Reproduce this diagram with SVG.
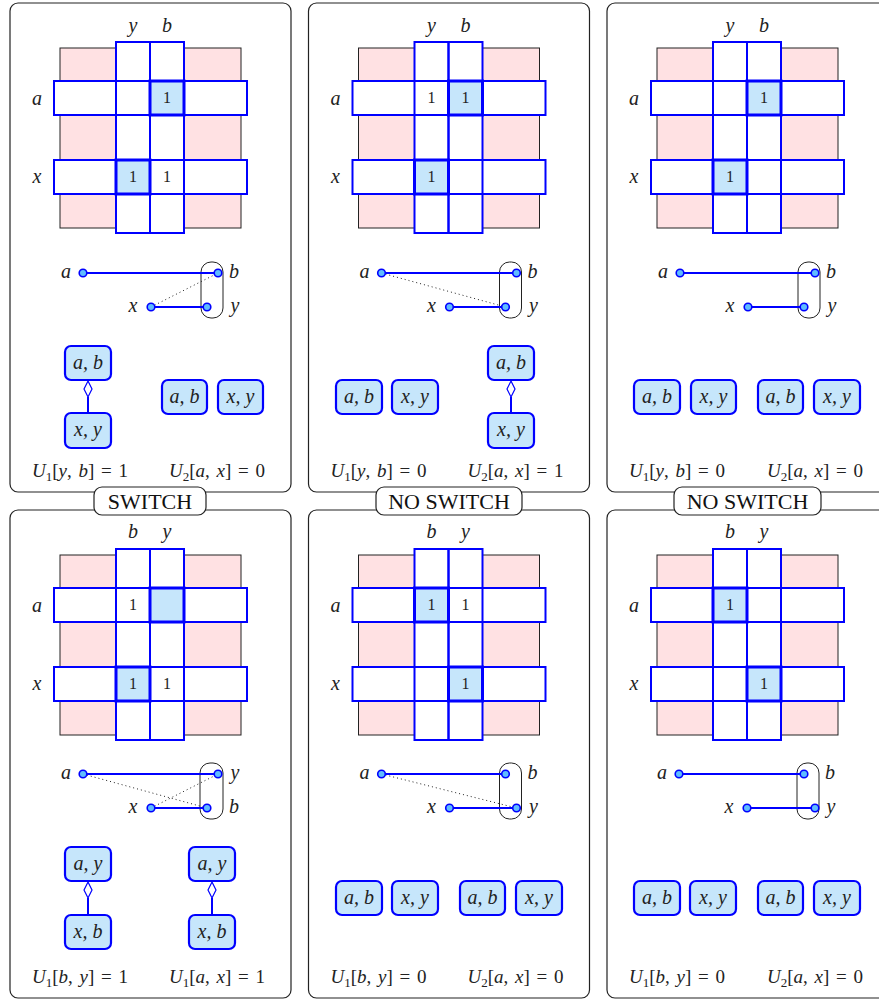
<svg xmlns="http://www.w3.org/2000/svg" xmlns:xlink="http://www.w3.org/1999/xlink" width="879" height="1000" viewBox="0 0 879 1000">
<style>
.panel{fill:#fff;stroke:#222;stroke-width:1.2}
.pink{fill:#ffe1e3;stroke:#222;stroke-width:1}
.sf{fill:#fff;stroke:none}
.so{fill:none;stroke:#0000ff;stroke-width:2}
.hl{fill:#c6e6fb;stroke:#0000ff;stroke-width:3}
.m{font-family:"Liberation Serif",serif;font-style:italic;font-size:20px;fill:#222;text-anchor:middle}
.one{font-family:"Liberation Serif",serif;font-size:16px;fill:#222;text-anchor:middle}
.u{font-family:"Liberation Serif",serif;font-size:19px;fill:#222;text-anchor:middle;word-spacing:2px}
.u .i{font-style:italic}
.edge{stroke:#0000ff;stroke-width:2;fill:none}
.dot{stroke:#222;stroke-width:1;stroke-dasharray:1 3;fill:none}
.node{fill:#5fbcff;stroke:#0000ff;stroke-width:1.6}
.grp{fill:none;stroke:#222;stroke-width:1}
.box{fill:#c6e6fb;stroke:#0000ff;stroke-width:2.2}
.diam{fill:#fff;stroke:#0000ff;stroke-width:1.2}
.lab{fill:#fff;stroke:#222;stroke-width:1.2}
.big{font-family:"Liberation Serif",serif;font-size:22px;fill:#111;text-anchor:middle}
</style>
<defs>
<g id="mat">
<rect class="pink" x="60" y="48" width="181" height="180"/>
<rect class="sf" x="116" y="42" width="68" height="191"/>
<rect class="sf" x="54" y="81" width="193" height="34"/>
<rect class="sf" x="54" y="160" width="193" height="34"/>
<rect class="so" x="116" y="42" width="34" height="191"/>
<rect class="so" x="150" y="42" width="34" height="191"/>
<rect class="so" x="54" y="81" width="193" height="34"/>
<rect class="so" x="54" y="160" width="193" height="34"/>
</g>
<g id="grpbox"><rect class="grp" x="201" y="262" width="22" height="56" rx="10"/></g>
</defs>

<!-- TOP PANEL 1 -->
<g id="panel-top-1">
<rect class="panel" x="10" y="3" width="281" height="489" rx="8"/>
<use xlink:href="#mat"/>
<rect class="hl" x="150" y="81" width="34" height="34"/>
<rect class="hl" x="116" y="160" width="34" height="34"/>
<text class="one" x="167" y="103">1</text>
<text class="one" x="133" y="182">1</text>
<text class="one" x="167" y="182">1</text>
<text class="m" x="133" y="32">y</text><text class="m" x="167" y="32">b</text>
<text class="m" x="37" y="105">a</text><text class="m" x="37" y="183">x</text>
<g id="graph-top-1">
<use xlink:href="#grpbox"/>
<line class="edge" x1="83" y1="273" x2="218" y2="273"/>
<line class="edge" x1="151" y1="307" x2="207" y2="307"/>
<line class="dot" x1="151" y1="307" x2="218" y2="273"/>
<circle class="node" cx="83" cy="273" r="3.8"/><circle class="node" cx="218" cy="273" r="3.8"/>
<circle class="node" cx="151" cy="307" r="3.8"/><circle class="node" cx="207" cy="307" r="3.8"/>
<text class="m" x="66" y="278">a</text><text class="m" x="234" y="278">b</text>
<text class="m" x="133" y="312">x</text><text class="m" x="235" y="312">y</text>
</g>
<g id="tree-top-1">
<rect class="box" x="65" y="346" width="46" height="34" rx="6"/><text class="m" x="88" y="369">a, b</text>
<rect class="box" x="65" y="413" width="46" height="35" rx="6"/><text class="m" x="88" y="436">x, y</text>
<line class="edge" x1="88" y1="397" x2="88" y2="413"/>
<polygon class="diam" points="88,381 92,389 88,397 84,389"/>
</g>
<rect class="box" x="162" y="380" width="45" height="34" rx="6"/><text class="m" x="184.5" y="403">a, b</text>
<rect class="box" x="218" y="380" width="45" height="34" rx="6"/><text class="m" x="240.5" y="403">x, y</text>
<text class="u" x="80" y="477"><tspan class="i">U</tspan><tspan font-size="13" dy="4">1</tspan><tspan dy="-4">[</tspan><tspan class="i">y</tspan>, <tspan class="i">b</tspan>] = 1</text>
<text class="u" x="217" y="477"><tspan class="i">U</tspan><tspan font-size="13" dy="4">2</tspan><tspan dy="-4">[</tspan><tspan class="i">a</tspan>, <tspan class="i">x</tspan>] = 0</text>
</g>

<!-- TOP PANEL 2 -->
<g id="panel-top-2" transform="translate(298.5,0)">
<rect class="panel" x="10" y="3" width="281" height="489" rx="8"/>
<use xlink:href="#mat"/>
<rect class="hl" x="150" y="81" width="34" height="34"/>
<rect class="hl" x="116" y="160" width="34" height="34"/>
<text class="one" x="133" y="103">1</text>
<text class="one" x="167" y="103">1</text>
<text class="one" x="133" y="182">1</text>
<text class="m" x="133" y="32">y</text><text class="m" x="167" y="32">b</text>
<text class="m" x="37" y="105">a</text><text class="m" x="37" y="183">x</text>
<g id="graph-top-2">
<use xlink:href="#grpbox"/>
<line class="edge" x1="83" y1="273" x2="218" y2="273"/>
<line class="edge" x1="151" y1="307" x2="207" y2="307"/>
<line class="dot" x1="83" y1="273" x2="207" y2="307"/>
<circle class="node" cx="83" cy="273" r="3.8"/><circle class="node" cx="218" cy="273" r="3.8"/>
<circle class="node" cx="151" cy="307" r="3.8"/><circle class="node" cx="207" cy="307" r="3.8"/>
<text class="m" x="66" y="278">a</text><text class="m" x="234" y="278">b</text>
<text class="m" x="133" y="312">x</text><text class="m" x="235" y="312">y</text>
</g>
<rect class="box" x="37.5" y="380" width="46" height="34" rx="6"/><text class="m" x="60.5" y="403">a, b</text>
<rect class="box" x="93.5" y="380" width="46" height="34" rx="6"/><text class="m" x="116.5" y="403">x, y</text>
<g id="tree-top-2">
<rect class="box" x="189.5" y="346" width="46" height="34" rx="6"/><text class="m" x="212.5" y="369">a, b</text>
<rect class="box" x="189.5" y="413" width="46" height="35" rx="6"/><text class="m" x="212.5" y="436">x, y</text>
<line class="edge" x1="212.5" y1="397" x2="212.5" y2="413"/>
<polygon class="diam" points="212.5,381 216.5,389 212.5,397 208.5,389"/>
</g>
<text class="u" x="80" y="477"><tspan class="i">U</tspan><tspan font-size="13" dy="4">1</tspan><tspan dy="-4">[</tspan><tspan class="i">y</tspan>, <tspan class="i">b</tspan>] = 0</text>
<text class="u" x="217" y="477"><tspan class="i">U</tspan><tspan font-size="13" dy="4">2</tspan><tspan dy="-4">[</tspan><tspan class="i">a</tspan>, <tspan class="i">x</tspan>] = 1</text>
</g>

<!-- TOP PANEL 3 -->
<g id="panel-top-3" transform="translate(597,0)">
<rect class="panel" x="10" y="3" width="281" height="489" rx="8"/>
<use xlink:href="#mat"/>
<rect class="hl" x="150" y="81" width="34" height="34"/>
<rect class="hl" x="116" y="160" width="34" height="34"/>
<text class="one" x="167" y="103">1</text>
<text class="one" x="133" y="182">1</text>
<text class="m" x="133" y="32">y</text><text class="m" x="167" y="32">b</text>
<text class="m" x="37" y="105">a</text><text class="m" x="37" y="183">x</text>
<g id="graph-top-3">
<use xlink:href="#grpbox"/>
<line class="edge" x1="83" y1="273" x2="218" y2="273"/>
<line class="edge" x1="151" y1="307" x2="207" y2="307"/>
<circle class="node" cx="83" cy="273" r="3.8"/><circle class="node" cx="218" cy="273" r="3.8"/>
<circle class="node" cx="151" cy="307" r="3.8"/><circle class="node" cx="207" cy="307" r="3.8"/>
<text class="m" x="66" y="278">a</text><text class="m" x="234" y="278">b</text>
<text class="m" x="133" y="312">x</text><text class="m" x="235" y="312">y</text>
</g>
<rect class="box" x="37" y="380" width="46" height="34" rx="6"/><text class="m" x="60" y="403">a, b</text>
<rect class="box" x="94" y="380" width="45" height="34" rx="6"/><text class="m" x="116.5" y="403">x, y</text>
<rect class="box" x="161" y="380" width="45" height="34" rx="6"/><text class="m" x="183.5" y="403">a, b</text>
<rect class="box" x="217" y="380" width="46" height="34" rx="6"/><text class="m" x="240" y="403">x, y</text>
<text class="u" x="80" y="477"><tspan class="i">U</tspan><tspan font-size="13" dy="4">1</tspan><tspan dy="-4">[</tspan><tspan class="i">y</tspan>, <tspan class="i">b</tspan>] = 0</text>
<text class="u" x="218" y="477"><tspan class="i">U</tspan><tspan font-size="13" dy="4">2</tspan><tspan dy="-4">[</tspan><tspan class="i">a</tspan>, <tspan class="i">x</tspan>] = 0</text>
</g>

<!-- BOTTOM PANEL 1 -->
<g id="panel-bot-1">
<rect class="panel" x="10" y="510" width="281" height="488" rx="8"/>
<use xlink:href="#mat" y="507"/>
<rect class="hl" x="150" y="588" width="34" height="34"/>
<rect class="hl" x="116" y="667" width="34" height="34"/>
<text class="one" x="133" y="610">1</text>
<text class="one" x="133" y="689">1</text>
<text class="one" x="167" y="689">1</text>
<text class="m" x="133" y="538">b</text><text class="m" x="167" y="538">y</text>
<text class="m" x="37" y="612">a</text><text class="m" x="37" y="690">x</text>
<g id="graph-bot-1">
<rect class="grp" x="200" y="763" width="23" height="56" rx="10"/>
<line class="edge" x1="83" y1="774" x2="218" y2="774"/>
<line class="edge" x1="151" y1="808" x2="207" y2="808"/>
<line class="dot" x1="83" y1="774" x2="207" y2="808"/>
<line class="dot" x1="151" y1="808" x2="218" y2="774"/>
<circle class="node" cx="83" cy="774" r="3.8"/><circle class="node" cx="218" cy="774" r="3.8"/>
<circle class="node" cx="151" cy="808" r="3.8"/><circle class="node" cx="207" cy="808" r="3.8"/>
<text class="m" x="66" y="779">a</text><text class="m" x="235" y="779">y</text>
<text class="m" x="133" y="813">x</text><text class="m" x="234" y="813">b</text>
</g>
<g id="tree-bot-1a">
<rect class="box" x="65" y="847" width="46" height="34" rx="6"/><text class="m" x="88" y="870">a, y</text>
<rect class="box" x="65" y="915" width="46" height="34" rx="6"/><text class="m" x="88" y="938">x, b</text>
<line class="edge" x1="88" y1="898" x2="88" y2="915"/>
<polygon class="diam" points="88,882 92,890 88,898 84,890"/>
</g>
<g id="tree-bot-1b">
<rect class="box" x="189" y="847" width="46" height="34" rx="6"/><text class="m" x="212" y="870">a, y</text>
<rect class="box" x="189" y="915" width="46" height="34" rx="6"/><text class="m" x="212" y="938">x, b</text>
<line class="edge" x1="212" y1="898" x2="212" y2="915"/>
<polygon class="diam" points="212,882 216,890 212,898 208,890"/>
</g>
<text class="u" x="80" y="983"><tspan class="i">U</tspan><tspan font-size="13" dy="4">1</tspan><tspan dy="-4">[</tspan><tspan class="i">b</tspan>, <tspan class="i">y</tspan>] = 1</text>
<text class="u" x="217" y="983"><tspan class="i">U</tspan><tspan font-size="13" dy="4">1</tspan><tspan dy="-4">[</tspan><tspan class="i">a</tspan>, <tspan class="i">x</tspan>] = 1</text>
</g>

<!-- BOTTOM PANEL 2 -->
<g id="panel-bot-2" transform="translate(298.5,0)">
<rect class="panel" x="10" y="510" width="281" height="488" rx="8"/>
<use xlink:href="#mat" y="507"/>
<rect class="hl" x="116" y="588" width="34" height="34"/>
<rect class="hl" x="150" y="667" width="34" height="34"/>
<text class="one" x="133" y="610">1</text>
<text class="one" x="167" y="610">1</text>
<text class="one" x="167" y="689">1</text>
<text class="m" x="133" y="538">b</text><text class="m" x="167" y="538">y</text>
<text class="m" x="37" y="612">a</text><text class="m" x="37" y="690">x</text>
<g id="graph-bot-2">
<rect class="grp" x="201" y="763" width="22" height="56" rx="10"/>
<line class="edge" x1="83" y1="774" x2="207" y2="774"/>
<line class="edge" x1="151" y1="808" x2="218" y2="808"/>
<line class="dot" x1="83" y1="774" x2="218" y2="808"/>
<circle class="node" cx="83" cy="774" r="3.8"/><circle class="node" cx="207" cy="774" r="3.8"/>
<circle class="node" cx="151" cy="808" r="3.8"/><circle class="node" cx="218" cy="808" r="3.8"/>
<text class="m" x="66" y="779">a</text><text class="m" x="234" y="779">b</text>
<text class="m" x="133" y="813">x</text><text class="m" x="235" y="813">y</text>
</g>
<rect class="box" x="37.5" y="881" width="46" height="34" rx="6"/><text class="m" x="60.5" y="904">a, b</text>
<rect class="box" x="93.5" y="881" width="46" height="34" rx="6"/><text class="m" x="116.5" y="904">x, y</text>
<rect class="box" x="161.5" y="881" width="45" height="34" rx="6"/><text class="m" x="184" y="904">a, b</text>
<rect class="box" x="217.5" y="881" width="46" height="34" rx="6"/><text class="m" x="240.5" y="904">x, y</text>
<text class="u" x="80" y="983"><tspan class="i">U</tspan><tspan font-size="13" dy="4">1</tspan><tspan dy="-4">[</tspan><tspan class="i">b</tspan>, <tspan class="i">y</tspan>] = 0</text>
<text class="u" x="217" y="983"><tspan class="i">U</tspan><tspan font-size="13" dy="4">2</tspan><tspan dy="-4">[</tspan><tspan class="i">a</tspan>, <tspan class="i">x</tspan>] = 0</text>
</g>

<!-- BOTTOM PANEL 3 -->
<g id="panel-bot-3" transform="translate(597,0)">
<rect class="panel" x="10" y="510" width="281" height="488" rx="8"/>
<use xlink:href="#mat" y="507"/>
<rect class="hl" x="116" y="588" width="34" height="34"/>
<rect class="hl" x="150" y="667" width="34" height="34"/>
<text class="one" x="133" y="610">1</text>
<text class="one" x="167" y="689">1</text>
<text class="m" x="133" y="538">b</text><text class="m" x="167" y="538">y</text>
<text class="m" x="37" y="612">a</text><text class="m" x="37" y="690">x</text>
<g id="graph-bot-3">
<rect class="grp" x="200" y="763" width="22" height="56" rx="10"/>
<line class="edge" x1="82" y1="774" x2="207" y2="774"/>
<line class="edge" x1="150" y1="808" x2="218" y2="808"/>
<circle class="node" cx="82" cy="774" r="3.8"/><circle class="node" cx="207" cy="774" r="3.8"/>
<circle class="node" cx="150" cy="808" r="3.8"/><circle class="node" cx="218" cy="808" r="3.8"/>
<text class="m" x="65" y="779">a</text><text class="m" x="233" y="779">b</text>
<text class="m" x="132" y="813">x</text><text class="m" x="234" y="813">y</text>
</g>
<rect class="box" x="37" y="881" width="46" height="34" rx="6"/><text class="m" x="60" y="904">a, b</text>
<rect class="box" x="93" y="881" width="46" height="34" rx="6"/><text class="m" x="116" y="904">x, y</text>
<rect class="box" x="161" y="881" width="45" height="34" rx="6"/><text class="m" x="183.5" y="904">a, b</text>
<rect class="box" x="217" y="881" width="46" height="34" rx="6"/><text class="m" x="240" y="904">x, y</text>
<text class="u" x="80" y="983"><tspan class="i">U</tspan><tspan font-size="13" dy="4">1</tspan><tspan dy="-4">[</tspan><tspan class="i">b</tspan>, <tspan class="i">y</tspan>] = 0</text>
<text class="u" x="218" y="983"><tspan class="i">U</tspan><tspan font-size="13" dy="4">2</tspan><tspan dy="-4">[</tspan><tspan class="i">a</tspan>, <tspan class="i">x</tspan>] = 0</text>
</g>

<!-- SWITCH LABELS -->
<g id="label-1"><rect class="lab" x="94" y="487" width="112" height="28" rx="8"/><text class="big" x="150" y="509">SWITCH</text></g>
<g id="label-2"><rect class="lab" x="376" y="487" width="146" height="28" rx="8"/><text class="big" x="449" y="509">NO SWITCH</text></g>
<g id="label-3"><rect class="lab" x="674" y="487" width="147" height="28" rx="8"/><text class="big" x="747.5" y="509">NO SWITCH</text></g>
</svg>
